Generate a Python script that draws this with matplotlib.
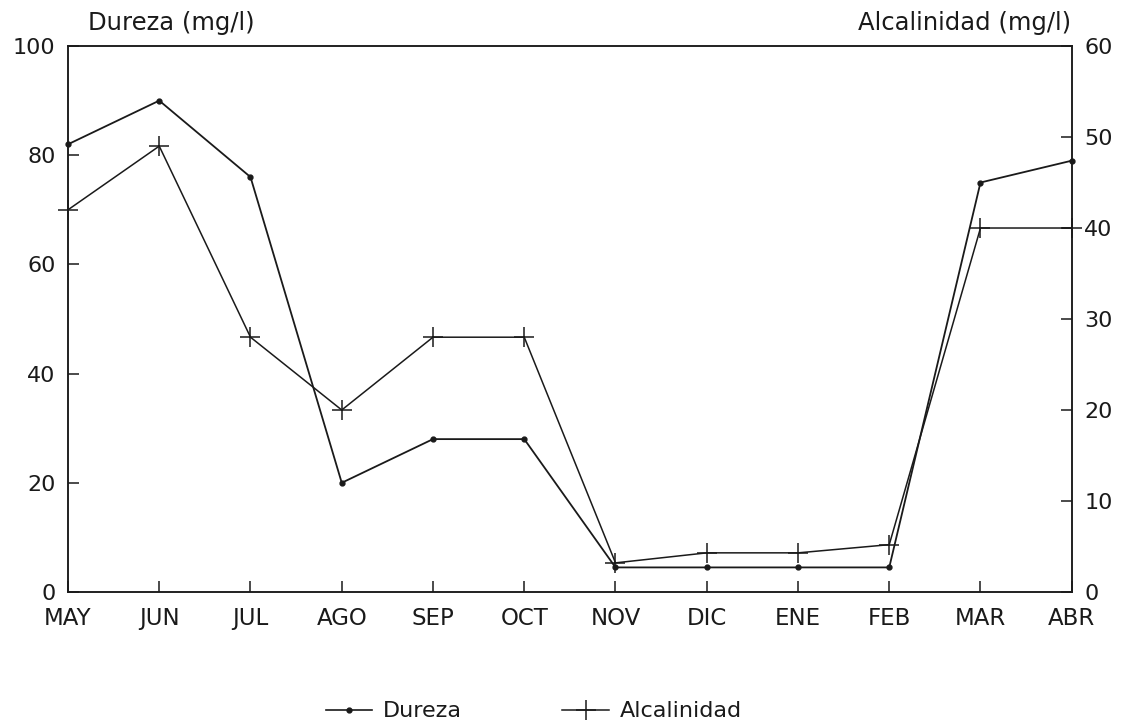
import matplotlib
matplotlib.use("Agg")
import matplotlib.pyplot as plt
from matplotlib.lines import Line2D

months = ["MAY", "JUN", "JUL", "AGO", "SEP", "OCT", "NOV", "DIC", "ENE", "FEB", "MAR", "ABR"]
dureza = [82, 90, 76, 20, 28, 28, 4.5, 4.5, 4.5, 4.5, 75, 79]
alcalinidad = [42, 49, 28, 20, 28, 28, 3.2, 4.3, 4.3, 5.2, 40, 40]

plt.rcParams["font.family"] = "DejaVu Sans"
ink = "#1a1a1a"

fig = plt.figure(figsize=(11.24, 7.26), dpi=100)
ax = fig.add_axes([0.0605, 0.1846, 0.893, 0.752])
ax2 = ax.twinx()

x = range(len(months))
ax.plot(x, dureza, color=ink, lw=1.3, marker="o", ms=3.5, clip_on=False, zorder=3)
ax2.plot(x, alcalinidad, color=ink, lw=1.1, marker="+", ms=15, mew=1.1, clip_on=False, zorder=3)

ax.set_xlim(0, len(months) - 1)
ax.set_ylim(0, 100)
ax2.set_ylim(0, 60)
ax.set_xticks(list(x))
ax.set_xticklabels(months)
ax.set_yticks(range(0, 101, 20))
ax2.set_yticks(range(0, 61, 10))

for a in (ax, ax2):
    for s in a.spines.values():
        s.set_linewidth(1.1)
        s.set_color(ink)
    a.tick_params(direction="in", length=8, width=1.1, colors=ink, labelsize=16)
ax.tick_params(axis="x", pad=11, labelsize=16.5)
ax.tick_params(axis="y", pad=9)
ax2.tick_params(axis="y", pad=9)

fig.text(0.078, 0.952, "Dureza (mg/l)", fontsize=17.5, color=ink, ha="left", va="bottom")
fig.text(0.953, 0.952, "Alcalinidad (mg/l)", fontsize=17.5, color=ink, ha="right", va="bottom")

handles = [
    Line2D([], [], color=ink, lw=1.2, marker="o", ms=3.5),
    Line2D([], [], color=ink, lw=1.1, marker="+", ms=15, mew=1.1),
]
fig.legend(handles, ["Dureza", "Alcalinidad"], loc="center", bbox_to_anchor=(0.475, 0.02),
           ncol=2, frameon=False, fontsize=16, handlelength=2.1, handletextpad=0.5,
           columnspacing=4.5, labelcolor=ink)

fig.savefig("out.png", dpi=100, facecolor="white")
